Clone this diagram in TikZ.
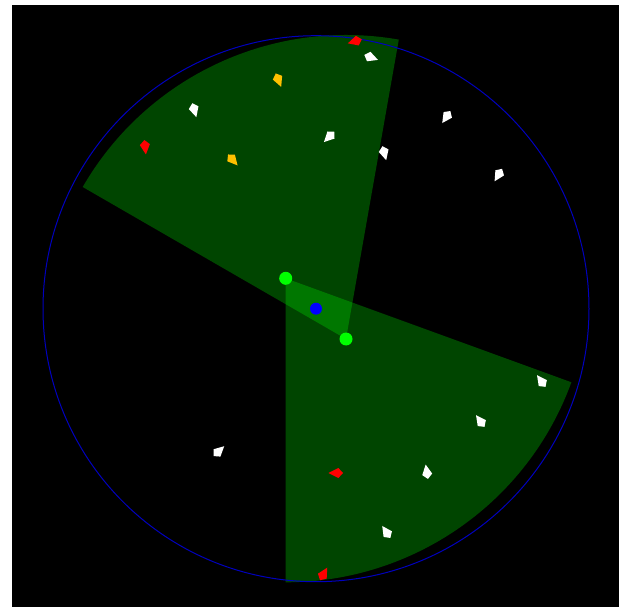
\documentclass[tikz,border=0pt]{standalone}
\definecolor{sectorgreen}{RGB}{0,255,0}
\definecolor{ringblue}{RGB}{0,0,190}
\definecolor{dotgreen}{RGB}{0,255,0}
\definecolor{gold}{RGB}{255,192,0}
\tikzset{
  sector/.style={fill=sectorgreen, fill opacity=0.27, draw=none},
  dotnode/.style={circle, inner sep=0, draw=none},
}
% kite: #1 = centre, #2 = screen heading angle (clockwise, y down), #3 = colour
\newcommand{\kite}[3]{%
  \fill[#3] ($(#1)+(#2:8.5)$) -- ($(#1)+(#2+105:5.2)$) -- ($(#1)+(#2+180:6)$) -- ($(#1)+(#2-105:5.2)$) -- cycle;}
\usetikzlibrary{calc}
\begin{document}
\begin{tikzpicture}[x=1pt,y=-1pt]
\useasboundingbox (0,0) rectangle (622,607);
\fill[white] (0,0) rectangle (622,607);
\fill[black] (12,5) rectangle (619,607);
\coordinate (C) at (316,308.7);
\coordinate (A) at (285.7,278.3);
\coordinate (B) at (346,339);
% sectors
\fill[sector] (B) -- ++(210:304) arc[start angle=210, end angle=280, radius=304] -- cycle;
\fill[sector] (A) -- ++(20:304) arc[start angle=20, end angle=90, radius=304] -- cycle;
% ring
\draw[ringblue, line width=1pt] (C) circle[radius=273];
% agents
\kite{370,57}{20}{white}
\kite{356,41}{164}{red}
\kite{194,109}{74}{white}
\kite{145,146}{84}{red}
\kite{232,159}{49}{gold}
\kite{278,79}{68}{gold}
\kite{330,136}{135}{white}
\kite{384,152}{75}{white}
\kite{447,116}{124}{white}
\kite{499,174}{121}{white}
\kite{218,452}{-43}{white}
\kite{542,382}{-126}{white}
\kite{481,422}{-126}{white}
\kite{337,473}{180}{red}
\kite{427,473}{-99}{white}
\kite{387,533}{-124}{white}
\kite{323,575}{-60}{red}
% dots
\node[dotnode, fill=dotgreen, minimum size=13pt] (ga) at (A) {};
\node[dotnode, fill=dotgreen, minimum size=13pt] (gb) at (B) {};
\node[dotnode, fill=blue, minimum size=12pt] (cb) at (C) {};
\end{tikzpicture}
\end{document}
